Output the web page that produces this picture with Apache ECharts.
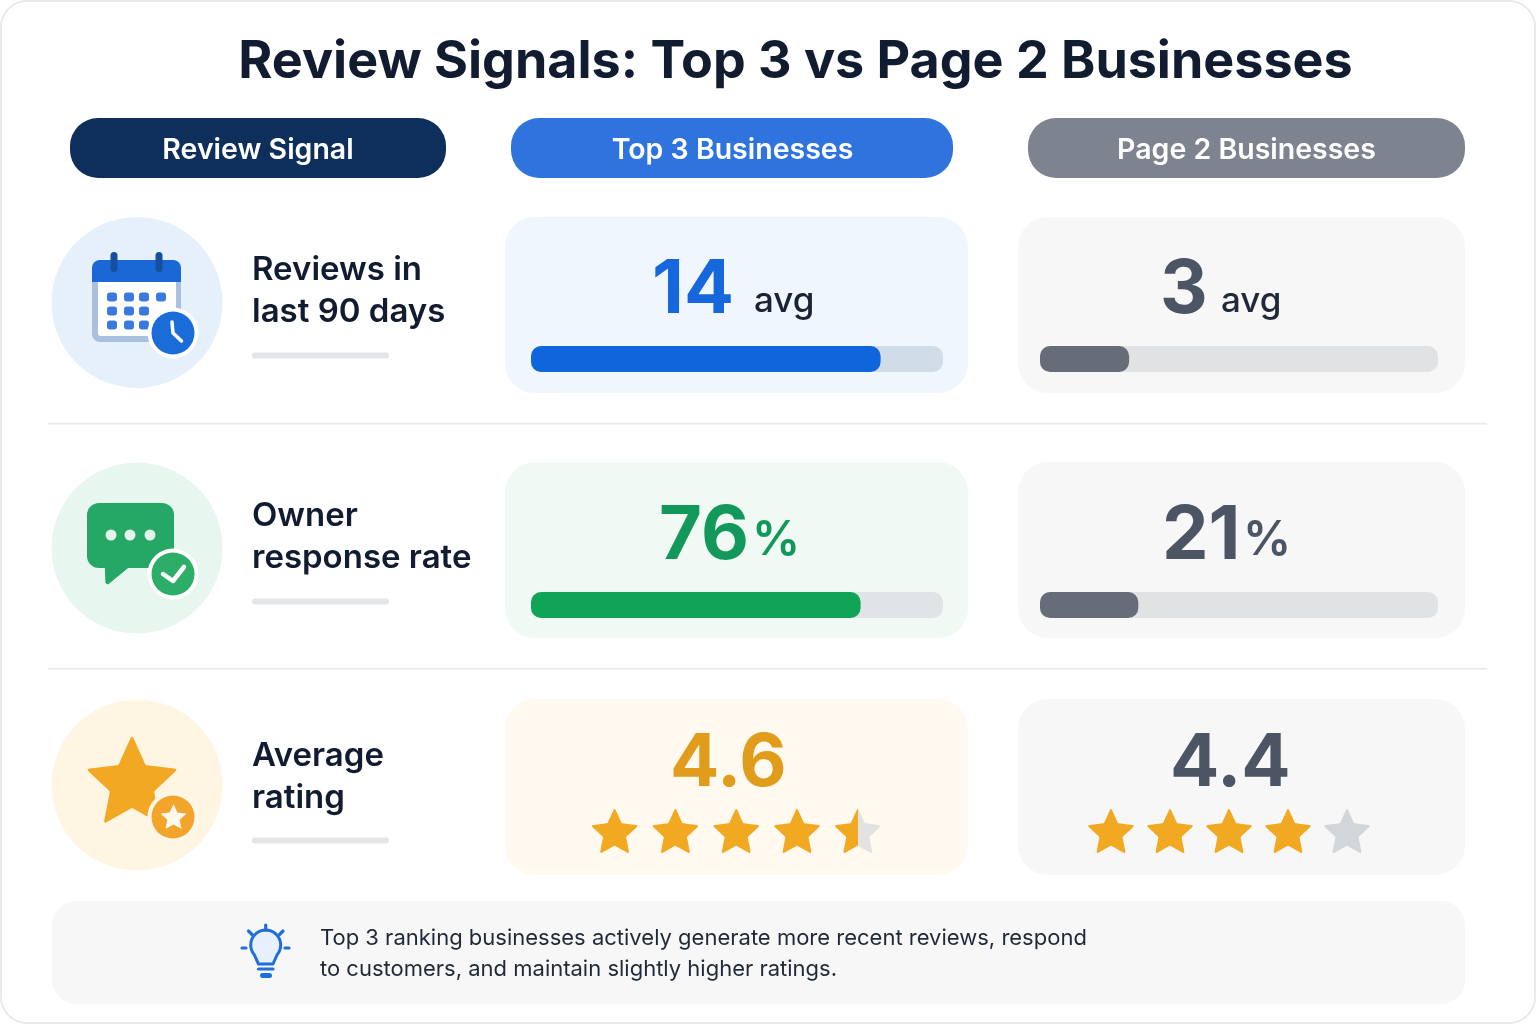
<!DOCTYPE html>
<html><head><meta charset="utf-8">
<style>html,body{margin:0;padding:0;background:#fff}#c{width:1536px;height:1024px}</style>
<script src="https://cdn.jsdelivr.net/npm/echarts@6/dist/echarts.min.js"></script>
</head><body><div id="c"></div>
<script>
const chartTitle = 'Review Signals: Top 3 vs Page 2 Businesses';
const columnHeaders = ['Review Signal', 'Top 3 Businesses', 'Page 2 Businesses'];
const signalLabels = [['Reviews in', 'last 90 days'], ['Owner', 'response rate'], ['Average', 'rating']];
const reviewsAvg = [14, 3];
const responseRate = [76, 21];
const avgRating = ['4.6', '4.4'];
// axis ceilings as implied by each bar's share of its track in the picture
const reviewsTrackMax = [16.5, 13.4];
const responseTrackMax = [95, 85];
// star fill per position as drawn in the picture
const top3StarFill = [1, 1, 1, 1, 0.5];
const page2StarFill = [1, 1, 1, 1, 0];
const starPositions = [1, 2, 3, 4, 5];
const insightLines = ['Top 3 ranking businesses actively generate more recent reviews, respond', 'to customers, and maintain slightly higher ratings.'];

const FONT = 'Inter, "Noto Sans", sans-serif';
function starCorners() {
  const pts = [];
  for (let i = 0; i < 10; i++) {
    const r = i % 2 ? 24 : 50, a = -Math.PI / 2 + i * Math.PI / 5;
    pts.push([50 + r * Math.cos(a), 50 + r * Math.sin(a)]);
  }
  return pts;
}
function starPath(round) {
  const pts = starCorners();
  let d = '';
  for (let i = 0; i < 10; i++) {
    const p = pts[i], a = pts[(i + 9) % 10], b = pts[(i + 1) % 10];
    const t = i % 2 ? 0.04 : round;
    const s = [p[0] + (a[0] - p[0]) * t, p[1] + (a[1] - p[1]) * t];
    const e = [p[0] + (b[0] - p[0]) * t, p[1] + (b[1] - p[1]) * t];
    d += (i ? 'L' : 'M') + s[0].toFixed(2) + ' ' + s[1].toFixed(2) + 'Q' + p[0].toFixed(2) + ' ' + p[1].toFixed(2) + ' ' + e[0].toFixed(2) + ' ' + e[1].toFixed(2);
  }
  return d + 'Z';
}
function starPolygon(x, y, w, h, round) {
  const pts = starCorners(), out = [];
  const xs = pts.map(p => p[0]), ys = pts.map(p => p[1]);
  const x0 = Math.min(...xs), x1 = Math.max(...xs), y0 = Math.min(...ys), y1 = Math.max(...ys);
  const map = p => [x + (p[0] - x0) / (x1 - x0) * w, y + (p[1] - y0) / (y1 - y0) * h];
  for (let i = 0; i < 10; i++) {
    const p = pts[i], a = pts[(i + 9) % 10], b = pts[(i + 1) % 10];
    const t = i % 2 ? 0.04 : round;
    const s = [p[0] + (a[0] - p[0]) * t, p[1] + (a[1] - p[1]) * t];
    const e = [p[0] + (b[0] - p[0]) * t, p[1] + (b[1] - p[1]) * t];
    for (let k = 0; k <= 6; k++) {
      const u = k / 6, v = 1 - u;
      out.push(map([v * v * s[0] + 2 * u * v * p[0] + u * u * e[0], v * v * s[1] + 2 * u * v * p[1] + u * u * e[1]]));
    }
  }
  return out;
}
const STAR = starPath(0.18);

const g = [];
const rect = (x, y, w, h, r, fill, z, extra) => g.push(Object.assign({ type: 'rect', z: z || 1, shape: { x, y, width: w, height: h, r }, style: { fill } }, extra || {}));
const circ = (cx, cy, r, fill, z) => g.push({ type: 'circle', z: z || 2, shape: { cx, cy, r }, style: { fill } });
const text = (t, x, y, size, weight, fill, align, z, extra) => g.push({ type: 'text', z: z || 6, x, y, style: Object.assign({ text: t, fontFamily: FONT, fontSize: size, fontWeight: weight, fill, align: align || 'left', verticalAlign: 'middle' }, extra || {}) });
const poly = (points, stroke, w, z) => g.push({ type: 'polyline', z: z || 4, shape: { points }, style: { stroke, lineWidth: w, fill: 'none', lineCap: 'round', lineJoin: 'round' } });
const starIcon = (x, y, w, h, fill, z, round) => g.push({ type: 'polygon', z, shape: { points: starPolygon(x, y, w, h, round) }, style: { fill } });

// outer card
rect(1, 1, 1534, 1022, 26, '#ffffff', 0, { style: { fill: '#ffffff', stroke: '#e8e9eb', lineWidth: 2 } });

text(chartTitle, 795.5, 62, 52, 700, '#111c30', 'center');

// headers
rect(70, 118, 376, 60, 28, '#0e2f5c');
rect(511, 118, 442, 60, 28, '#2f74de');
rect(1028, 118, 437, 60, 28, '#7d848f');
text(columnHeaders[0], 258, 150, 28.5, 600, '#ffffff', 'center');
text(columnHeaders[1], 732.5, 150, 28.5, 600, '#ffffff', 'center');
text(columnHeaders[2], 1246.5, 150, 28.5, 600, '#ffffff', 'center');

// dividers
rect(48, 423, 1439, 1.5, 0, '#e6e8ea');
rect(48, 668, 1439, 1.5, 0, '#e6e8ea');

// row cards
const cardY = [217, 462, 699];
const cardFill = ['#f0f6fe', '#f1f9f5', '#fff9ef'];
cardY.forEach((y, i) => {
  rect(505, y, 463, 176, 30, cardFill[i]);
  rect(1018, y, 447, 176, 30, '#f7f7f8');
});

// signal labels + underlines
const labelY = [[270, 312], [516, 558], [756, 798]];
const underlineY = [352.5, 598.5, 837.5];
signalLabels.forEach((ls, i) => {
  ls.forEach((l, j) => text(l, 252, labelY[i][j], 33, 600, '#111c30'));
  rect(252, underlineY[i], 137, 6, 3, '#e3e5e7');
});

// icon discs
circ(137, 302.5, 85.5, '#e6f0fa');
circ(137, 548, 85.5, '#e7f6ee');
circ(137, 785, 85.5, '#fef5e3');

// calendar icon
rect(92, 268, 89, 74, 8, '#a9c1de', 3);
rect(98, 280, 78, 56, 3, '#ffffff', 3);
g.push({ type: 'rect', z: 3, shape: { x: 92, y: 260, width: 89, height: 22, r: [8, 8, 0, 0] }, style: { fill: '#1a68d6' } });
rect(110.5, 252, 7, 20, 3.5, '#164f9e', 4);
rect(155.5, 252, 7, 20, 3.5, '#164f9e', 4);
[[112, 297], [129, 297], [144, 297], [161, 297], [112, 311], [129, 311], [144, 311], [112, 325], [129, 325], [144, 325]]
  .forEach(p => rect(p[0] - 5, p[1] - 4.5, 10, 9, 3, '#3a7ade', 4));
circ(173, 333, 25.5, '#ffffff', 5);
circ(173, 333, 21.5, '#1a6cd8', 5);
poly([[172, 322], [173, 333], [181.5, 341]], '#ffffff', 3.5, 6);

// chat icon
rect(87, 503, 87, 65, 12, '#25a866', 3);
g.push({ type: 'polygon', z: 3, shape: { points: [[105, 560], [106, 583], [108, 584], [130, 566]] }, style: { fill: '#25a866', stroke: '#25a866', lineWidth: 1, lineJoin: 'round' } });
[111, 130, 150].forEach(x => circ(x, 535, 5.5, '#e4f5ec', 4));
circ(173, 574, 25.5, '#ffffff', 5);
circ(173, 574, 21.5, '#2cae68', 5);
poly([[163, 574], [173, 581], [184, 567]], '#ffffff', 4.5, 6);

// star icon
starIcon(86, 735, 92, 89, '#f3a823', 3, 0.12);
circ(173, 817, 25.5, '#fdf7ea', 5);
circ(173, 817, 21.5, '#f3a42a', 5);
starIcon(160.5, 804, 26, 25, '#fff8ee', 6, 0.1);

// values
function valuePair(big, suffix, bigX, sufX, y, sufY, bigSize, sufSize, color, sufColor, sufWeight) {
  text(big, bigX, y, bigSize, 700, color, 'left');
  if (suffix) text(suffix, sufX, sufY, sufSize, sufWeight, sufColor, 'left');
}
valuePair(String(reviewsAvg[0]), 'avg', 652, 754, 291, 301, 74, 35, '#1667db', '#1a2233', 500);
valuePair(String(reviewsAvg[1]), 'avg', 1160, 1221, 291, 301, 74, 35, '#4b5563', '#1f2937', 500);
valuePair(String(responseRate[0]), '%', 659, 752, 537, 541, 74, 48, '#12985a', '#12985a', 600);
valuePair(String(responseRate[1]), '%', 1162, 1243, 537, 541, 74, 48, '#4b5563', '#4b5563', 600);
valuePair(avgRating[0], '', 670, 0, 764, 0, 73, 0, '#e09c1a');
valuePair(avgRating[1], '', 1170, 0, 764, 0, 73, 0, '#4b5563');

// footer
rect(52, 901, 1413, 103, 24, '#f7f7f8');
text(insightLines[0], 320, 938, 22, 400, '#1f2937');
text(insightLines[1], 320, 969, 22, 400, '#1f2937');
const B = '#1f6fd8';
const bulb = [];
for (let a = 140; a <= 400; a += 10) {
  const t = a * Math.PI / 180;
  bulb.push([265.7 + 15 * Math.cos(t), 945 + 15 * Math.sin(t)]);
}
g.push({ type: 'polygon', z: 3, shape: { points: [...bulb, [273, 964], [258.5, 964]] }, style: { fill: '#e8f0fb', stroke: B, lineWidth: 3, lineJoin: 'round' } });
poly([[258.5, 969], [273, 969]], B, 3.2);
rect(260, 973, 12, 5, 2.5, B, 4);
poly([[265.7, 925], [265.7, 930]], B, 3.2);
poly([[248.5, 931], [252, 934.5]], B, 3.2);
poly([[283, 931], [279.5, 934.5]], B, 3.2);
poly([[242, 948], [246, 948]], B, 3.2);
poly([[285, 948], [289, 948]], B, 3.2);

// --- library-drawn marks ---
const grids = [], xAxes = [], yAxes = [], series = [];
function hiddenAxes(min, max) {
  const i = grids.length - 1;
  xAxes.push({ type: 'value', gridIndex: i, min, max, show: false });
  yAxes.push({ type: 'category', gridIndex: i, data: ['v'], show: false });
  return i;
}
function progress(value, max, left, width, top, color, track) {
  grids.push({ left, top, width, height: 26 });
  const i = hiddenAxes(0, max);
  series.push({ type: 'bar', xAxisIndex: i, yAxisIndex: i, data: [value], barWidth: 26, silent: true, z: 3,
    itemStyle: { color, borderRadius: 10 }, showBackground: true,
    backgroundStyle: { color: track, borderRadius: 10 } });
}
const TOP3 = { left: 531, width: 412 }, PAGE2 = { left: 1040, width: 398 };
progress(reviewsAvg[0], reviewsTrackMax[0], TOP3.left, TOP3.width, 346, '#0f65dc', '#d0dde9');
progress(reviewsAvg[1], reviewsTrackMax[1], PAGE2.left, PAGE2.width, 346, '#666d78', '#e0e2e4');
progress(responseRate[0], responseTrackMax[0], TOP3.left, TOP3.width, 592, '#10a456', '#e0e4e6');
progress(responseRate[1], responseTrackMax[1], PAGE2.left, PAGE2.width, 592, '#666d78', '#e0e2e4');

function starRow(fills, left, width, empty) {
  grids.push({ left, top: 800, width, height: 62 });
  const i = hiddenAxes(0.5, 5.5);
  const A = '#f2a922';
  series.push({ type: 'scatter', xAxisIndex: i, yAxisIndex: i, silent: true, z: 3,
    symbol: 'path://' + STAR, symbolSize: [45.5, 44],
    data: starPositions.map((p, k) => {
      const f = fills[k];
      const color = f >= 1 ? A : f <= 0 ? empty : new echarts.graphic.LinearGradient(0, 0, 1, 0, [
        { offset: 0, color: A }, { offset: f, color: A }, { offset: f, color: empty }, { offset: 1, color: empty }]);
      return { value: [p, 'v'], itemStyle: { color, opacity: 1 } };
    }) });
}
starRow(top3StarFill, 584.2, 304, '#e2e2e2');
starRow(page2StarFill, 1081.5, 295, '#d3d6d9');

const chart = echarts.init(document.getElementById('c'), null, { renderer: 'canvas', width: 1536, height: 1024 });
chart.setOption({ animation: false, backgroundColor: '#ffffff', graphic: { elements: g }, grid: grids, xAxis: xAxes, yAxis: yAxes, series, tooltip: { show: false } });
</script></body></html>
